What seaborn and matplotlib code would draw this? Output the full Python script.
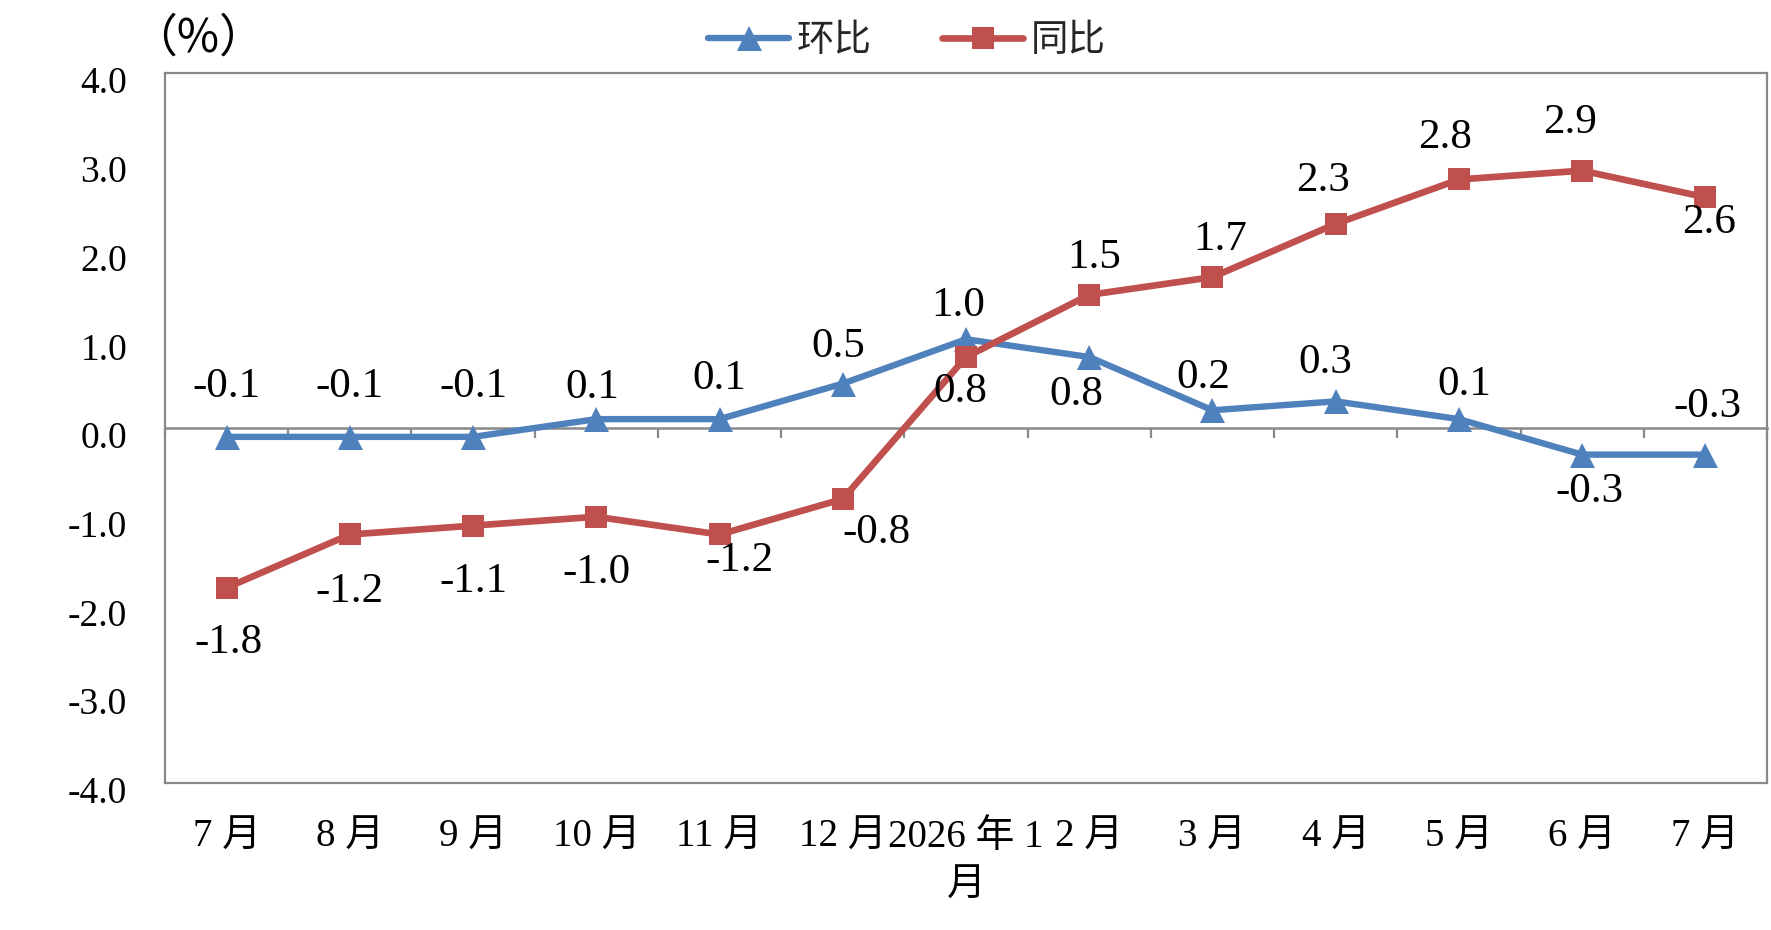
import numpy as np
import pandas as pd
import matplotlib
matplotlib.use("Agg")
import matplotlib.pyplot as plt
import matplotlib.ticker as mticker
from matplotlib.transforms import ScaledTranslation
import seaborn as sns

# ---------------- data ----------------
months = ["7 月", "8 月", "9 月", "10 月", "11 月", "12 月", "2026 年 1\n月",
          "2 月", "3 月", "4 月", "5 月", "6 月", "7 月"]
mom = [-0.1, -0.1, -0.1, 0.1, 0.1, 0.5, 1.0, 0.8, 0.2, 0.3, 0.1, -0.3, -0.3]   # 环比
yoy = [-1.8, -1.2, -1.1, -1.0, -1.2, -0.8, 0.8, 1.5, 1.7, 2.3, 2.8, 2.9, 2.6]  # 同比
y_ticks = [-4.0, -3.0, -2.0, -1.0, 0.0, 1.0, 2.0, 3.0, 4.0]
series_names = ["环比", "同比"]
unit_label = "（%）"

# label placement (pixel offsets from each point: dx right, dy down)
mom_off = [(0, -50), (0, -50), (0, -50), (-4, -31), (0, -40), (-5, -37), (-8, -34),
           (-13, 38), (-9, -33), (-10, -39), (5, -34), (7, 37), (2, -48)]
yoy_off = [(2, 55), (0, 57), (0, 56), (0, 56), (20, 26), (34, 34), (-6, 35),
           (5, -37), (8, -37), (-13, -43), (-14, -42), (-12, -48), (4, 26)]

BLUE = "#4F81BD"
RED = "#C0504D"
GRAY = "#898989"

sns.set_style("white")
plt.rcParams["font.family"] = ["Liberation Serif", "Noto Sans CJK SC", "DejaVu Sans"]
plt.rcParams["axes.unicode_minus"] = False

W, H = 1771, 930
fig = plt.figure(figsize=(W / 100, H / 100), dpi=100)
ax = fig.add_axes([165 / W, 1 - 783 / H, (1767 - 165) / W, (783 - 73) / H])

x = np.arange(len(months))
df = pd.DataFrame({"x": x, series_names[0]: mom, series_names[1]: yoy})

sns.lineplot(data=df, x="x", y=series_names[0], ax=ax, color=BLUE, linewidth=4.6,
             marker="^", markersize=18, markeredgewidth=0, label=series_names[0], zorder=3)
sns.lineplot(data=df, x="x", y=series_names[1], ax=ax, color=RED, linewidth=4.8,
             marker="s", markersize=16, markeredgewidth=0, label=series_names[1], zorder=4)

# data labels
for vals, offs in ((mom, mom_off), (yoy, yoy_off)):
    for xi, v, (dx, dy) in zip(x, vals, offs):
        ax.annotate(f"{v:.1f}", (xi, v), xytext=(dx, -dy), textcoords="offset pixels",
                    ha="center", va="center", fontsize=31, color="black", zorder=6)

# axes limits / ticks
ax.set_xlim(-0.5, len(months) - 0.5)
ax.set_ylim(y_ticks[0], y_ticks[-1])
ax.set_xlabel("")
ax.set_ylabel("")
ax.set_xticks(x)
ax.set_xticklabels(months, fontsize=28)
ax.set_yticks(y_ticks)
ax.yaxis.set_major_formatter(mticker.FormatStrFormatter("%.1f"))
ax.yaxis.set_minor_locator(mticker.MultipleLocator(0.5))
ax.tick_params(axis="x", which="both", length=0, pad=26, labelcolor="black")
ax.tick_params(axis="y", which="major", direction="out", length=8.6, width=1.5,
               color=GRAY, pad=18.5, labelsize=27, labelcolor="black")
ax.tick_params(axis="y", which="minor", direction="in", length=8.6, width=1.5, color=GRAY)
for lab in ax.get_xticklabels():
    lab.set_linespacing(1.4)

for sp in ax.spines.values():
    sp.set_visible(True)
    sp.set_color(GRAY)
    sp.set_linewidth(1.6)

# horizontal category axis crossing at zero, with tick marks between categories
sec = ax.secondary_xaxis(0.5)
sec.set_xticks(np.arange(-0.5, len(months), 1.0))
sec.tick_params(axis="x", direction="in", length=7, width=1.6, color=GRAY,
                labeltop=False, labelbottom=False)
for sp in sec.spines.values():
    sp.set_color(GRAY)
    sp.set_linewidth(1.8)

# nudge y tick labels slightly down like the original
for lab in ax.get_yticklabels():
    lab.set_transform(lab.get_transform() + ScaledTranslation(0, -7 / 100, fig.dpi_scale_trans))

# legend
ax.legend(loc="center", bbox_to_anchor=(907 / W, 1 - 42 / H), bbox_transform=fig.transFigure,
          ncol=2, frameon=False, fontsize=27, handlelength=2.16, handletextpad=0.2,
          columnspacing=1.87, numpoints=1)

# unit label
fig.text(198 / W, 1 - 38 / H, unit_label, ha="center", va="center", fontsize=33, color="black",
         family=["Noto Sans CJK SC", "Liberation Serif"])

fig.savefig("out.png", dpi=100)
